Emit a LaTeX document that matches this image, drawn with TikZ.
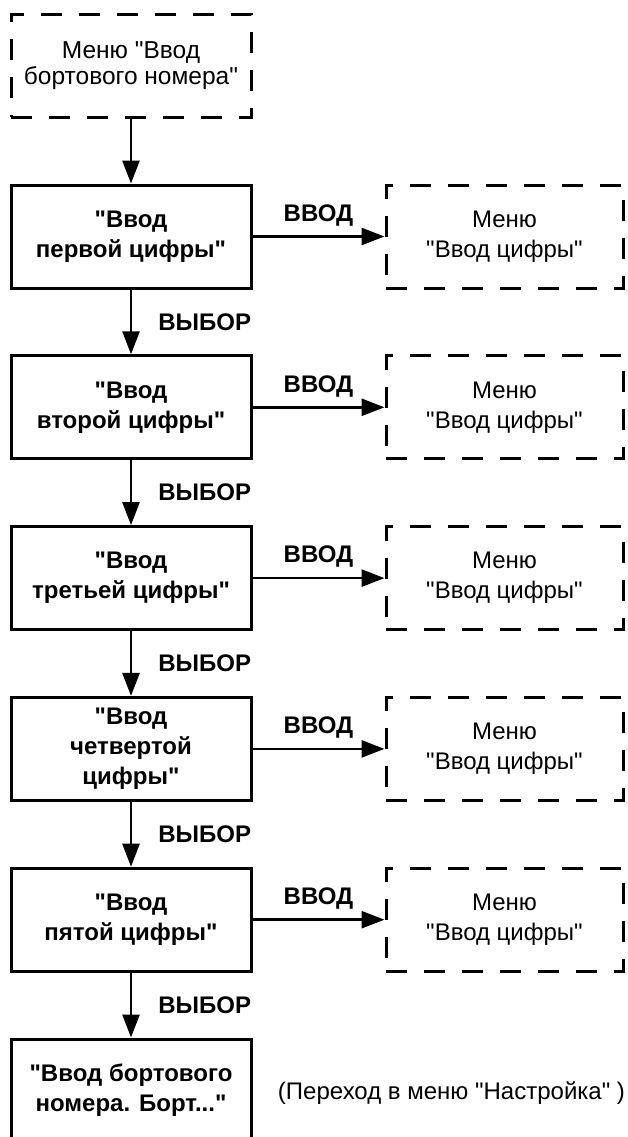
\documentclass[tikz,border=0pt]{standalone}
\usepackage{fontspec}
\setmainfont{Liberation Sans}[Ligatures=TeXOff]
\usetikzlibrary{arrows.meta}

\begin{document}
\begin{tikzpicture}
[x=1pt,y=-1pt,
  stepDecorate/.style={shape=rectangle,draw,line width=3pt,minimum width=240pt,
    minimum height=103pt,inner sep=0pt,align=center,
    font=\fontsize{24}{30}\selectfont\bfseries},%
  menuDecorate/.style={stepDecorate,dash pattern=on 21pt off 17pt,
    font=\fontsize{24}{30}\selectfont},%
  lineDecorate/.style={-{Triangle[length=23pt,width=17pt]},line width=2.7pt},%
  labelDecorate/.style={inner sep=0pt,font=\fontsize{24}{30}\selectfont\bfseries}]
\useasboundingbox (0,0) rectangle (628,1137);
%% boxes
\node (menu) at (131,66) [menuDecorate,font=\fontsize{24.5}{26}\selectfont] {Меню "Ввод\\бортового номера"};
\foreach \nodename/\y/\txt in {
  1/236.5/{"Ввод\\первой цифры"}, 2/407.3/{"Ввод\\второй цифры"},
  3/578.1/{"Ввод\\третьей цифры"}, 4/748.9/{"Ввод\\четвертой\\цифры"},
  5/919.7/{"Ввод\\пятой цифры"}, 6/1090.5/{"Ввод бортового\\номера. Борт..."}}
{
  \node (s\nodename) at (131,\y) [stepDecorate] {\txt};
}
\foreach \nodename/\y in {
  1/236.5, 2/407.3, 3/578.1, 4/748.9, 5/919.7}
{
  \node (m\nodename) at (504.5,\y) [menuDecorate,minimum width=237pt] {Меню\\"Ввод цифры"};
}
\node (jump) at (451.5,1093) [font=\fontsize{24}{30}\selectfont] {(Переход в меню "Настройка" )};
%% arrows
\path (menu) edge[lineDecorate] (s1);
\path
\foreach \startnode/\endnode in {
  s1/s2, s2/s3, s3/s4, s4/s5, s5/s6}
{
  (\startnode) edge[lineDecorate] node[labelDecorate,right=26pt] {ВЫБОР} (\endnode)
};
\path
\foreach \nodename in {1,...,5}
{
  (s\nodename) edge[lineDecorate] node[labelDecorate,above=9pt] {ВВОД} (m\nodename)
};
\end{tikzpicture}
\end{document}
